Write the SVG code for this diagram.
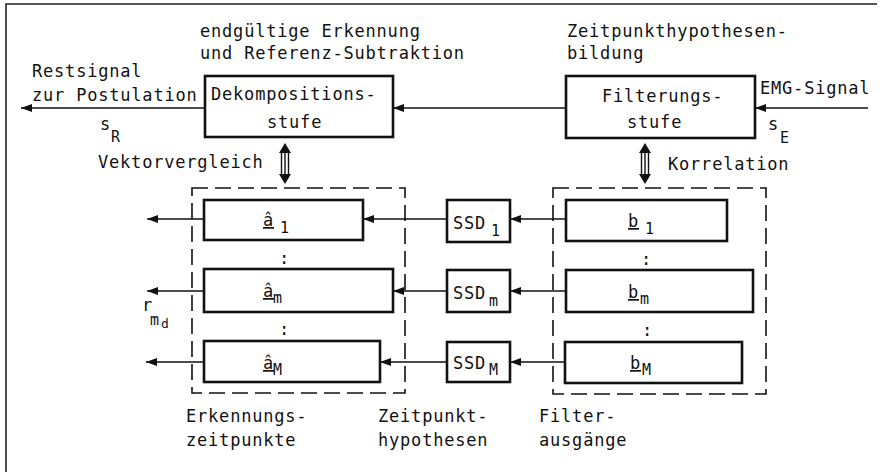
<svg xmlns="http://www.w3.org/2000/svg" width="880" height="472" viewBox="0 0 880 472">
<style>
text{font-family:"DejaVu Sans Mono","Liberation Mono",monospace;font-size:17px;letter-spacing:0.8px;fill:#111}
.sub{font-size:15px;letter-spacing:0}
.box{fill:none;stroke:#111;stroke-width:2.6}
.dash{fill:none;stroke:#111;stroke-width:1.6;stroke-dasharray:16 7}
.ln{stroke:#111;stroke-width:1.6;fill:none}
.frame{stroke:#222;stroke-width:1.6;fill:none}
.u{text-decoration:underline}
</style>
<defs>
<marker id="ah" markerUnits="userSpaceOnUse" markerWidth="12" markerHeight="10" refX="11" refY="4.5" orient="auto">
<path d="M0,0.5 L11,4.5 L0,8.5 z" fill="#111"/>
</marker>
</defs>
<rect width="880" height="472" fill="#fff"/>
<path class="frame" d="M6,472 L6,4 L877,4"/>

<g id="labels">
<text x="200" y="37">endgültige Erkennung</text>
<text x="200" y="59">und Referenz-Subtraktion</text>
<text x="567" y="37">Zeitpunkthypothesen-</text>
<text x="567" y="59">bildung</text>
<text x="32" y="77">Restsignal</text>
<text x="32" y="101">zur Postulation</text>
<text x="100" y="130">s</text><text class="sub" x="111" y="142">R</text>
<text x="760" y="94">EMG-Signal</text>
<text x="768" y="130">s</text><text class="sub" x="780" y="143">E</text>
<text x="98" y="168">Vektorvergleich</text>
<text x="668" y="170">Korrelation</text>
<text x="142" y="311">r</text><text class="sub" x="150" y="325">m</text><text class="sub" style="font-size:13px" x="161" y="328">d</text>
<text x="186" y="422">Erkennungs-</text>
<text x="186" y="446">zeitpunkte</text>
<text x="378" y="422">Zeitpunkt-</text>
<text x="378" y="446">hypothesen</text>
<text x="539" y="422">Filter-</text>
<text x="539" y="446">ausgänge</text>
</g>

<g id="dekomposition">
<rect class="box" x="205" y="76" width="188" height="61"/>
<text x="211" y="100">Dekompositions-</text>
<text x="267" y="128">stufe</text>
</g>
<g id="filterung">
<rect class="box" x="566" y="76" width="189" height="62"/>
<text x="602" y="102">Filterungs-</text>
<text x="627" y="128">stufe</text>
</g>

<g id="erkennung-group">
<rect class="dash" x="192" y="188" width="213" height="205"/>
</g>
<g id="filter-group">
<rect class="dash" x="553" y="188" width="213" height="206"/>
</g>

<g id="a1">
<rect class="box" x="204" y="200" width="159" height="40"/>
<text x="263" y="226"><tspan class="u">â</tspan></text><text class="sub" x="280" y="233">1</text>
</g>
<text x="284" y="264" text-anchor="middle" style="letter-spacing:0">:</text>
<g id="am">
<rect class="box" x="204" y="269" width="189" height="43"/>
<text x="263" y="297"><tspan class="u">â</tspan></text><text class="sub" x="273" y="303">m</text>
</g>
<text x="284" y="335" text-anchor="middle" style="letter-spacing:0">:</text>
<g id="aM">
<rect class="box" x="204" y="341" width="176" height="41"/>
<text x="263" y="369"><tspan class="u">â</tspan></text><text class="sub" x="273" y="375">M</text>
</g>

<g id="ssd1">
<rect class="box" x="447" y="200" width="63" height="42"/>
<text x="453" y="229">SSD</text><text class="sub" x="491" y="236">1</text>
</g>
<g id="ssdm">
<rect class="box" x="447" y="270" width="63" height="42"/>
<text x="453" y="299">SSD</text><text class="sub" x="489" y="306">m</text>
</g>
<g id="ssdM">
<rect class="box" x="447" y="342" width="63" height="40"/>
<text x="453" y="369">SSD</text><text class="sub" x="489" y="375">M</text>
</g>

<g id="b1">
<rect class="box" x="566" y="200" width="161" height="41"/>
<text x="628" y="227"><tspan class="u">b</tspan></text><text class="sub" x="645" y="234">1</text>
</g>
<text x="646" y="265" text-anchor="middle" style="letter-spacing:0">:</text>
<g id="bm">
<rect class="box" x="566" y="270" width="187" height="42"/>
<text x="628" y="298"><tspan class="u">b</tspan></text><text class="sub" x="640" y="304">m</text>
</g>
<text x="647" y="336" text-anchor="middle" style="letter-spacing:0">:</text>
<g id="bM">
<rect class="box" x="565" y="342" width="177" height="41"/>
<text x="630" y="369"><tspan class="u">b</tspan></text><text class="sub" x="642" y="375">M</text>
</g>

<g id="connectors">
<line class="ln" x1="205" y1="108" x2="21" y2="108" marker-end="url(#ah)"/>
<line class="ln" x1="566" y1="108" x2="393" y2="108" marker-end="url(#ah)"/>
<line class="ln" x1="868" y1="108" x2="755" y2="108" marker-end="url(#ah)"/>
<line class="ln" x1="566" y1="219" x2="510" y2="219" marker-end="url(#ah)"/>
<line class="ln" x1="447" y1="219" x2="363" y2="219" marker-end="url(#ah)"/>
<line class="ln" x1="204" y1="219" x2="147" y2="219" marker-end="url(#ah)"/>
<line class="ln" x1="566" y1="291" x2="510" y2="291" marker-end="url(#ah)"/>
<line class="ln" x1="447" y1="291" x2="393" y2="291" marker-end="url(#ah)"/>
<line class="ln" x1="204" y1="291" x2="147" y2="291" marker-end="url(#ah)"/>
<line class="ln" x1="565" y1="362" x2="510" y2="362" marker-end="url(#ah)"/>
<line class="ln" x1="447" y1="362" x2="380" y2="362" marker-end="url(#ah)"/>
<line class="ln" x1="204" y1="362" x2="146" y2="362" marker-end="url(#ah)"/>
<g id="dbl-vektor">
<path d="M285,143 L279,153 L291,153 z M285,184 L279,174 L291,174 z" fill="#111"/>
<path class="ln" d="M281.5,152 V175 M285,152 V175 M288.5,152 V175" style="stroke-width:1.4"/>
</g>
<g id="dbl-korrelation">
<path d="M645,143 L639,153 L651,153 z M645,184 L639,174 L651,174 z" fill="#111"/>
<path class="ln" d="M641.5,152 V175 M645,152 V175 M648.5,152 V175" style="stroke-width:1.4"/>
</g>
</g>
</svg>
